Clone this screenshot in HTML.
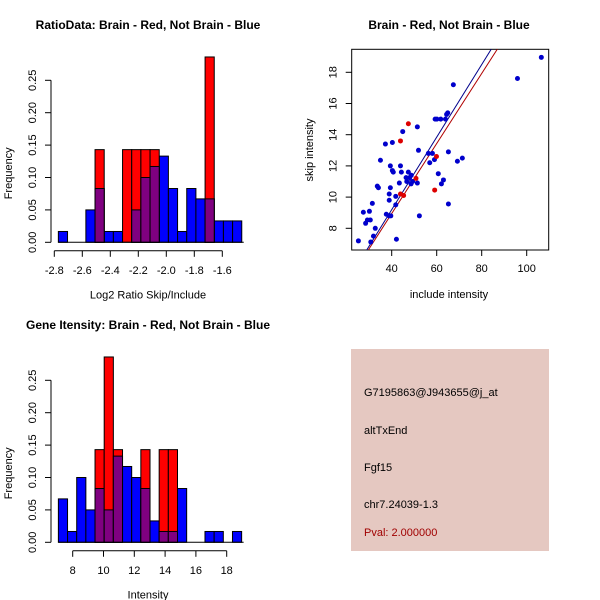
<!DOCTYPE html>
<html><head><meta charset="utf-8"><style>
body{margin:0;background:#fff}
svg{display:block;font-family:"Liberation Sans",sans-serif}
</style></head><body>
<svg id="c" width="600" height="600" xmlns="http://www.w3.org/2000/svg">
<rect x="351" y="349" width="198" height="202" fill="#e5c8c1"/>
<g font-size="11" fill="#000">
<text x="364" y="396">G7195863@J943655@j_at</text>
<text x="364" y="434">altTxEnd</text>
<text x="364" y="471">Fgf15</text>
<text x="364" y="508">chr7.24039-1.3</text>
<text x="364" y="536" fill="#a00000">Pval: 2.000000</text>
</g>
</svg>
<script>
// Ratio histogram data
const ratioBlue=[0.0167,0,0,0.05,0.083,0.0167,0.0167,0,0.05,0.1,0.117,0.133,0.083,0.0167,0.083,0.067,0.067,0.033,0.033,0.033];
const ratioRed=[0,0,0,0,0.143,0,0,0.143,0.143,0.143,0.143,0,0,0,0,0,0.286,0,0,0];
const ratioStart=-2.771, ratioWidth=0.0655;
const ratioTicks=[-2.8,-2.6,-2.4,-2.2,-2.0,-1.8,-1.6];
const ratioTickLabels=["-2.8","-2.6","-2.4","-2.2","-2.0","-1.8","-1.6"];
// Intensity histogram data
const intBlue=[0.067,0.0167,0.1,0.05,0.083,0.05,0.133,0.117,0.1,0.083,0.033,0.0167,0.0167,0.083,0,0,0.0167,0.0167,0,0.0167];
const intRed=[0,0,0,0,0.143,0.286,0.143,0,0,0.143,0,0.143,0.143,0,0,0,0,0,0,0];
const intStart=7.07, intWidth=0.595;
const intTicks=[8,10,12,14,16,18];
const intTickLabels=["8","10","12","14","16","18"];
const freqTicks=[0,0.05,0.10,0.15,0.20,0.25];
const freqLabels=["0.00","0.05","0.10","0.15","0.20","0.25"];
// Scatter data
const blueX=[25.2,27.4,28.4,29.2,30.5,30.1,30.7,31.4,31.9,32.7,33.6,34.1,35.0,37.2,37.6,38.9,39.6,38.9,38.9,39.4,39.4,40.3,40.7,40.3,41.8,41.8,42.1,43.4,43.9,44.3,44.9,46.4,46.7,47.4,48.0,48.7,48.6,49.3,51.4,51.4,51.9,52.3,56.3,56.9,58.1,59.0,59.3,60.1,60.7,61.8,62.1,63.0,63.9,64.4,64.9,65.2,65.2,67.4,69.2,71.4,95.9,106.5];
const blueY=[7.19,9.03,8.32,8.53,8.53,9.09,7.12,9.6,7.5,8.0,10.7,10.6,12.36,13.4,8.9,8.8,8.8,9.8,10.2,10.6,12.0,11.7,11.6,13.5,10.05,9.5,7.3,10.9,12.0,11.6,14.2,11.25,11.0,11.6,11.25,11.4,10.85,11.0,10.9,14.5,13.0,8.8,12.8,12.2,12.8,12.4,15.0,15.0,11.5,15.0,10.85,11.1,15.0,15.3,15.4,12.9,9.56,17.2,12.3,12.5,17.6,18.96];
const redX=[47.4,43.9,43.9,45.3,50.8,59.1,59.9];
const redY=[14.7,13.6,10.2,10.1,11.2,10.45,12.6];
const fitIntercept=[6.61-0.2326*28.9, 6.61-0.2245*29.6]; // blue, red
const fitSlope=[0.2326,0.2245];
const xTicksS=[40,60,80,100];
const yTicksS=[8,10,12,14,16,18];

const NS="http://www.w3.org/2000/svg";
const svg=document.getElementById('c');
function mk(tag,attrs,parent){const e=document.createElementNS(NS,tag);for(const k in attrs)e.setAttribute(k,attrs[k]);(parent||svg).appendChild(e);return e;}
function txt(s,attrs,parent){const e=mk('text',attrs,parent);e.textContent=s;return e;}

function hist(cfg){
  const g=mk('g',{});
  
  
  const sx=v=>cfg.x0+(v-cfg.t0)*cfg.kx, sy=v=>cfg.y0-v*cfg.ky;
  const n=cfg.blue.length;
  for(let i=0;i<n;i++){
    const a=sx(cfg.start+i*cfg.w), b=sx(cfg.start+(i+1)*cfg.w);
    const v=cfg.blue[i];
    const r=mk('rect',{x:a,y:sy(v),width:b-a,height:sy(0)-sy(v),fill:'#0000ff',stroke:'#000','stroke-width':1},g);
    
    
  }
  for(let i=0;i<n;i++){
    const v=cfg.red[i]; if(!v) continue;
    const a=sx(cfg.start+i*cfg.w), b=sx(cfg.start+(i+1)*cfg.w);
    const r=mk('rect',{x:a,y:sy(v),width:b-a,height:sy(0)-sy(v),fill:'#ff0000',stroke:'#000','stroke-width':1},g);
    
    
    const m=Math.min(v,cfg.blue[i]);
    if(m>0){
      const p=mk('rect',{x:a,y:sy(m),width:b-a,height:sy(0)-sy(m),fill:'#7f0080',stroke:'#000','stroke-width':1},g);
      
      
    }
  }
  mk('line',{x1:sx(cfg.start),x2:sx(cfg.start+n*cfg.w)+2,y1:sy(0),y2:sy(0),stroke:'#000'},g);
  const ya=mk('g',{},g);
  
  
  const ax=51;
  mk('line',{x1:ax,x2:ax,y1:sy(0),y2:sy(0.25),stroke:'#000'},ya);
  freqTicks.forEach((t,i)=>{
    mk('line',{x1:ax-6,x2:ax,y1:sy(t),y2:sy(t),stroke:'#000'},ya);
    txt(freqLabels[i],{x:0,y:0,'font-size':11,'text-anchor':'middle',transform:`translate(${ax-15},${sy(t)}) rotate(-90)`},ya);
  });
  const xa=mk('g',{},g);
  
  
  const ay=cfg.y0+8.5;
  mk('line',{x1:sx(cfg.ticks[0]),x2:sx(cfg.ticks[cfg.ticks.length-1]),y1:ay,y2:ay,stroke:'#000'},xa);
  cfg.ticks.forEach((t,i)=>{
    mk('line',{x1:sx(t),x2:sx(t),y1:ay,y2:ay+6,stroke:'#000'},xa);
    txt(cfg.tickLabels[i],{x:sx(t),y:ay+23,'font-size':11,'text-anchor':'middle'},xa);
  });
  const xt=txt(cfg.xlab,{x:148,y:cfg.y0+56,'font-size':11,'text-anchor':'middle'},g);
  
  
  const yt=txt('Frequency',{x:0,y:0,'font-size':11,'text-anchor':'middle',transform:`translate(12,${sy(0.125)+12}) rotate(-90)`},g);
  
  
  const tt=txt(cfg.title,{x:cfg.tx,y:cfg.ty,'font-size':12,'font-weight':'bold','text-anchor':'middle'},g);
  
  
}
hist({name:'ratio-histogram',blue:ratioBlue,red:ratioRed,start:ratioStart,w:ratioWidth,ticks:ratioTicks,tickLabels:ratioTickLabels,t0:-2.8,x0:54.3,kx:140,y0:242.3,ky:648,xlab:'Log2 Ratio Skip/Include',title:'RatioData: Brain - Red, Not Brain - Blue',tx:148,ty:29});
hist({name:'intensity-histogram',blue:intBlue,red:intRed,start:intStart,w:intWidth,ticks:intTicks,tickLabels:intTickLabels,t0:8,x0:72.7,kx:15.4,y0:542.3,ky:648,xlab:'Intensity',title:'Gene Itensity: Brain - Red, Not Brain - Blue',tx:148,ty:329});

(function(){
  const g=mk('g',{});
  
  
  const L=351.7,R=548.7,T=49.3,B=250;
  const sx=v=>391.7+(v-40)*2.25, sy=v=>228.3-(v-8)*15.6;
  const cp=mk('clipPath',{id:'sc'},g);mk('rect',{x:L,y:T,width:R-L,height:B-T},cp);
  mk('rect',{x:L,y:T,width:R-L,height:B-T,fill:'none',stroke:'#000'},g);
  const cols=['#00008b','#b00000'];
  const xl=20,xr=120;
  fitSlope.forEach((s,i)=>{
    const l=mk('line',{x1:sx(xl),y1:sy(fitIntercept[i]+s*xl),x2:sx(xr),y2:sy(fitIntercept[i]+s*xr),stroke:cols[i],'stroke-width':1,'clip-path':'url(#sc)'},g);
    
    
  });
  blueX.forEach((x,i)=>{
    const c=mk('circle',{cx:sx(x),cy:sy(blueY[i]),r:2.5,fill:'#0000cc'},g);
    
    
  });
  redX.forEach((x,i)=>{
    const c=mk('circle',{cx:sx(x),cy:sy(redY[i]),r:2.5,fill:'#dd0000'},g);
    
    
  });
  const xa=mk('g',{},g);
  
  
  xTicksS.forEach(t=>{
    mk('line',{x1:sx(t),x2:sx(t),y1:B,y2:B+6,stroke:'#000'},xa);
    txt(String(t),{x:sx(t),y:B+22,'font-size':11,'text-anchor':'middle'},xa);
  });
  const ya=mk('g',{},g);
  
  
  yTicksS.forEach(t=>{
    mk('line',{x1:L-6,x2:L,y1:sy(t),y2:sy(t),stroke:'#000'},ya);
    txt(String(t),{x:0,y:0,'font-size':11,'text-anchor':'middle',transform:`translate(${L-15},${sy(t)}) rotate(-90)`},ya);
  });
  const xt=txt('include intensity',{x:449,y:298,'font-size':11,'text-anchor':'middle'},g);
  
  
  const yt=txt('skip intensity',{x:0,y:0,'font-size':11,'text-anchor':'middle',transform:'translate(313,150) rotate(-90)'},g);
  
  
  const tt=txt('Brain - Red, Not Brain - Blue',{x:449,y:29,'font-size':12,'font-weight':'bold','text-anchor':'middle'},g);
  
  
})();
</script>
</body></html>
